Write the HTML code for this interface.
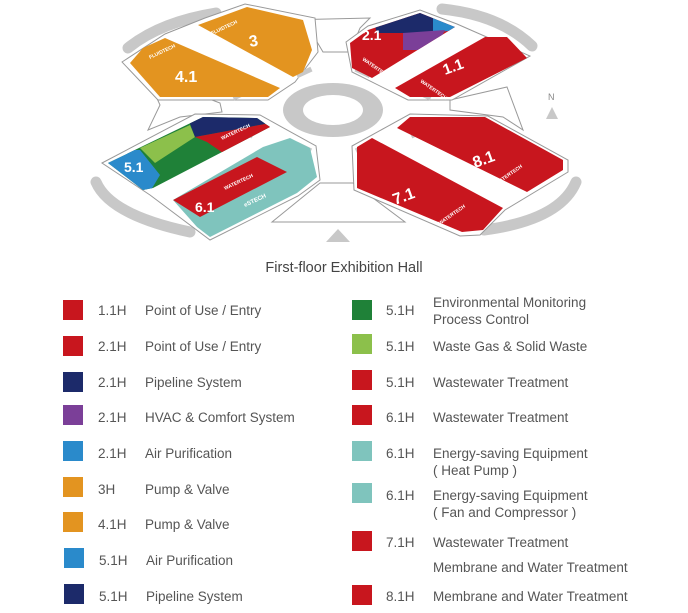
<!DOCTYPE html>
<html><head><meta charset="utf-8"><style>
body{margin:0;background:#fff;width:688px;height:613px;overflow:hidden;position:relative;font-family:"Liberation Sans",sans-serif;}
.t{position:absolute;color:#555;font-size:13.5px;white-space:nowrap;line-height:17px}
.s{position:absolute;width:20px;height:20px}
svg{position:absolute;left:0;top:0}
</style></head><body>
<svg width="688" height="250" viewBox="0 0 688 250">
<defs>
<clipPath id="c21"><polygon points="350,43,368,30,420,13,455,27,372,78,352,68"/></clipPath>
<clipPath id="c51"><polygon points="108,163,203,117,257,118,270,127,153,188,143,190"/></clipPath>
<clipPath id="c61"><polygon points="173,200,263,147,290,138,310,148,317,177,297,193,210,237,197,227"/></clipPath>
</defs>
<g fill="none" stroke="#c8c8c8" stroke-width="11" stroke-linecap="round">
<path d="M128,48 Q160,22 216,13"/>
<path d="M442,9 Q500,15 532,46"/>
<path d="M96,182 Q110,215 190,232"/>
<path d="M484,230 Q560,220 576,182"/>
</g>
<g fill="#fff" stroke="#999" stroke-width="1">
<polygon points="285,20,370,18,360,28,350,52,323,52,310,30"/>
<polygon points="272,222,320,183,353,183,405,222"/>
<polygon points="150,83,180,88,220,103,222,112,180,117,148,130,160,105"/>
<polygon points="450,100,507,87,523,130,503,117,450,110"/>
<polygon points="122,62,165,34,205,18,245,4,315,18,318,52,295,82,268,100,158,100"/>
<polygon points="346,42,368,26,420,10,457,24,530,56,452,100,408,100,352,72"/>
<polygon points="102,163,195,114,260,115,316,146,320,180,298,196,210,240,150,195"/>
<polygon points="352,146,410,114,488,116,568,160,568,172,505,210,480,235,460,236,354,190"/>
</g>
<g fill="#c8c8c8">
<ellipse cx="333" cy="110" rx="50" ry="27"/>
<rect x="232" y="90" width="22" height="6" transform="rotate(-25 243 93)"/>
<rect x="410" y="90" width="22" height="6" transform="rotate(25 421 93)"/>
<rect x="232" y="128" width="22" height="6" transform="rotate(25 243 131)"/>
<rect x="410" y="128" width="22" height="6" transform="rotate(-25 421 131)"/>
<rect x="296" y="70" width="16" height="5" transform="rotate(-25 304 72)"/>
<rect x="355" y="70" width="16" height="5" transform="rotate(25 363 72)"/>
<rect x="296" y="145" width="16" height="5" transform="rotate(25 304 147)"/>
<rect x="355" y="145" width="16" height="5" transform="rotate(-25 363 147)"/>
<polygon points="338,229,326,242,350,242"/>
<polygon points="552,107,546,119,558,119"/>
</g>
<ellipse cx="333" cy="110" rx="30" ry="15" fill="#fff"/>
<text x="548" y="100" font-size="9" fill="#888">N</text>
<g fill="#e39420">
<polygon points="130,63,143,48,165,38,280,88,268,97,160,97"/>
<polygon points="198,25,247,7,303,20,312,50,303,72,293,77"/>
</g>
<g clip-path="url(#c21)">
<rect x="340" y="0" width="130" height="90" fill="#c8161e"/>
<polygon points="370,10,433,10,433,33,377,33" fill="#1c2a6a"/>
<polygon points="433,10,460,10,455,30,433,33" fill="#2a8acb"/>
<polygon points="403,33,445,30,435,50,403,50" fill="#7b3f98"/>
</g>
<g fill="#c8161e">
<polygon points="395,88,485,37,507,37,527,58,450,97,410,97"/>
<polygon points="397,128,410,117,485,117,563,160,563,170,527,192"/>
<polygon points="357,147,372,138,503,208,483,230,462,232,357,188"/>
</g>
<g clip-path="url(#c51)">
<rect x="100" y="100" width="180" height="100" fill="#1f8138"/>
<polygon points="100,150,140,150,160,175,145,200,100,200" fill="#2a8acb"/>
<polygon points="140,148,190,125,195,137,155,163" fill="#8cc04b"/>
<polygon points="185,110,275,110,265,124,195,137" fill="#1c2a6a"/>
<polygon points="195,137,265,124,275,127,223,153,207,142" fill="#c8161e"/>
</g>
<g clip-path="url(#c61)">
<rect x="160" y="130" width="170" height="120" fill="#7fc4bd"/>
<polygon points="173,200,257,157,287,172,200,217" fill="#c8161e"/>
</g>
<g fill="#fff" font-weight="bold">
<text x="250" y="47" font-size="16" transform="rotate(-10 250 47)">3</text>
<text x="175" y="82" font-size="16">4.1</text>
<text x="445" y="75" font-size="15" transform="rotate(-20 445 75)">1.1</text>
<text x="362" y="40" font-size="14">2.1</text>
<text x="475" y="168" font-size="16" transform="rotate(-20 475 168)">8.1</text>
<text x="395" y="205" font-size="16" transform="rotate(-20 395 205)">7.1</text>
<text x="124" y="172" font-size="14">5.1</text>
<text x="195" y="212" font-size="14">6.1</text>
<text x="362" y="60" font-size="5" transform="rotate(35 362 60)">WATERTECH</text>
<text x="420" y="82" font-size="5" transform="rotate(35 420 82)">WATERTECH</text>
<text x="497" y="185" font-size="5" transform="rotate(-35 497 185)">WATERTECH</text>
<text x="440" y="225" font-size="5" transform="rotate(-35 440 225)">WATERTECH</text>
<text x="225" y="190" font-size="5" transform="rotate(-25 225 190)">WATERTECH</text>
<text x="245" y="207" font-size="6" transform="rotate(-25 245 207)">eSTECH</text>
<text x="222" y="140" font-size="5" transform="rotate(-25 222 140)">WATERTECH</text>
<text x="150" y="59" font-size="5" transform="rotate(-25 150 59)">FLUIDTECH</text>
<text x="212" y="35" font-size="5" transform="rotate(-25 212 35)">FLUIDTECH</text>
</g>
</svg>
<div class="t" style="left:0;width:688px;text-align:center;top:260px;font-size:14.5px;color:#444">First-floor Exhibition Hall</div>

<div class="s" style="left:63px;top:300px;background:#c8161e"></div><div class="t" style="left:98px;top:302px">1.1H</div><div class="t" style="left:145px;top:302px">Point of Use / Entry</div>
<div class="s" style="left:63px;top:336px;background:#c8161e"></div><div class="t" style="left:98px;top:338px">2.1H</div><div class="t" style="left:145px;top:338px">Point of Use / Entry</div>
<div class="s" style="left:63px;top:372px;background:#1c2a6a"></div><div class="t" style="left:98px;top:374px">2.1H</div><div class="t" style="left:145px;top:374px">Pipeline System</div>
<div class="s" style="left:63px;top:405px;background:#7b3f98"></div><div class="t" style="left:98px;top:409px">2.1H</div><div class="t" style="left:145px;top:409px">HVAC &amp; Comfort System</div>
<div class="s" style="left:63px;top:441px;background:#2a8acb"></div><div class="t" style="left:98px;top:445px">2.1H</div><div class="t" style="left:145px;top:445px">Air Purification</div>
<div class="s" style="left:63px;top:477px;background:#e39420"></div><div class="t" style="left:98px;top:481px">3H</div><div class="t" style="left:145px;top:481px">Pump &amp; Valve</div>
<div class="s" style="left:63px;top:512px;background:#e39420"></div><div class="t" style="left:98px;top:516px">4.1H</div><div class="t" style="left:145px;top:516px">Pump &amp; Valve</div>
<div class="s" style="left:64px;top:548px;background:#2a8acb"></div><div class="t" style="left:99px;top:552px">5.1H</div><div class="t" style="left:146px;top:552px">Air Purification</div>
<div class="s" style="left:64px;top:584px;background:#1c2a6a"></div><div class="t" style="left:99px;top:588px">5.1H</div><div class="t" style="left:146px;top:588px">Pipeline System</div>

<div class="s" style="left:352px;top:300px;background:#1f8138"></div><div class="t" style="left:386px;top:302px">5.1H</div><div class="t" style="left:433px;top:294px">Environmental Monitoring<br>Process Control</div>
<div class="s" style="left:352px;top:334px;background:#8cc04b"></div><div class="t" style="left:386px;top:338px">5.1H</div><div class="t" style="left:433px;top:338px">Waste Gas &amp; Solid Waste</div>
<div class="s" style="left:352px;top:370px;background:#c8161e"></div><div class="t" style="left:386px;top:374px">5.1H</div><div class="t" style="left:433px;top:374px">Wastewater Treatment</div>
<div class="s" style="left:352px;top:405px;background:#c8161e"></div><div class="t" style="left:386px;top:409px">6.1H</div><div class="t" style="left:433px;top:409px">Wastewater Treatment</div>
<div class="s" style="left:352px;top:441px;background:#7fc4bd"></div><div class="t" style="left:386px;top:445px">6.1H</div><div class="t" style="left:433px;top:445px">Energy-saving Equipment<br>( Heat Pump )</div>
<div class="s" style="left:352px;top:483px;background:#7fc4bd"></div><div class="t" style="left:386px;top:487px">6.1H</div><div class="t" style="left:433px;top:487px">Energy-saving Equipment<br>( Fan and Compressor )</div>
<div class="s" style="left:352px;top:531px;background:#c8161e"></div><div class="t" style="left:386px;top:534px">7.1H</div><div class="t" style="left:433px;top:534px">Wastewater Treatment</div>
<div class="t" style="left:433px;top:559px">Membrane and Water Treatment</div>
<div class="s" style="left:352px;top:585px;background:#c8161e"></div><div class="t" style="left:386px;top:588px">8.1H</div><div class="t" style="left:433px;top:588px">Membrane and Water Treatment</div>
</body></html>
